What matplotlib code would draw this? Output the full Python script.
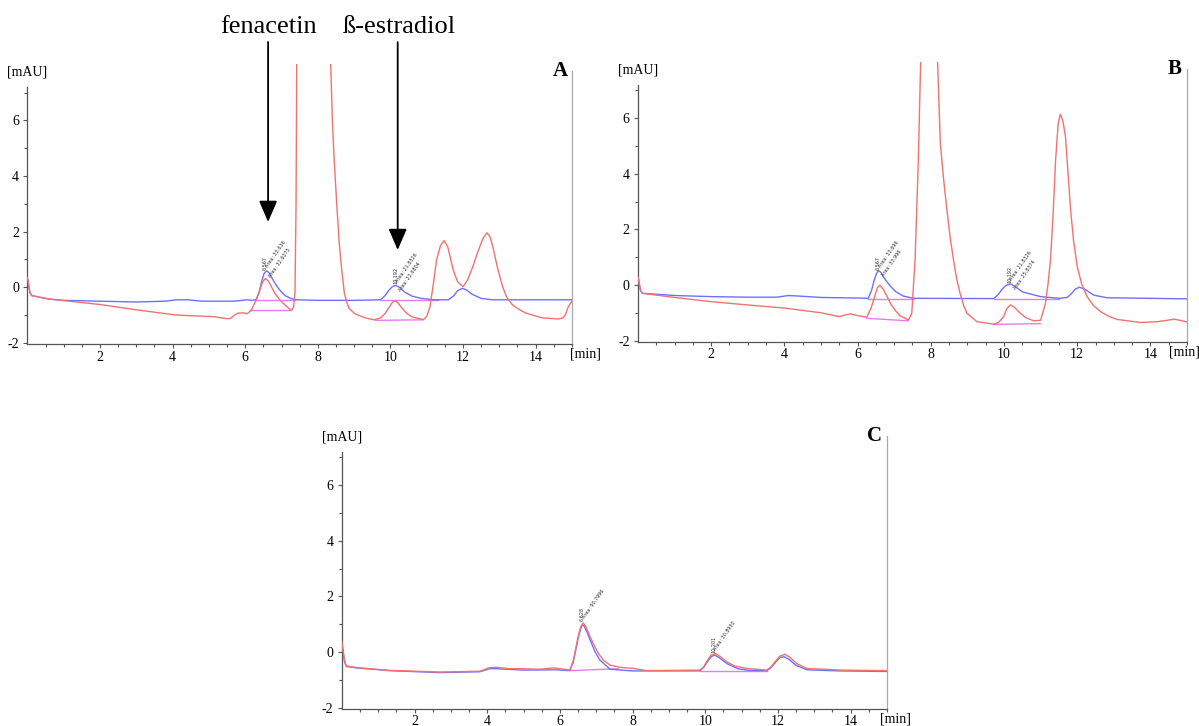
import matplotlib
matplotlib.use("Agg")
import matplotlib.pyplot as plt
import numpy as np

plt.rcParams['font.family'] = ['Liberation Serif', 'DejaVu Serif']
plt.rcParams['axes.unicode_minus'] = False

# ---- data (time in min, signal in mAU) ----
# Panel A
a_blue_t = [0.0, 0.07, 0.12, 0.6, 1.0, 2.0, 3.0, 3.8, 4.1, 4.4, 4.8, 5.7, 6.05, 6.2, 6.3, 6.38, 6.45,
            6.52, 6.59, 6.66, 6.75, 6.85, 6.95, 7.1, 7.25, 7.4, 8.0, 9.0, 9.73, 9.85, 9.95, 10.05,
            10.14, 10.25, 10.4, 10.6, 10.85, 11.2, 11.6, 11.75, 11.85, 11.98, 12.1, 12.25, 12.5,
            12.8, 15.0]
a_blue_v = [0.3, -0.2, -0.3, -0.43, -0.47, -0.5, -0.53, -0.5, -0.45, -0.45, -0.5, -0.5, -0.45, -0.47,
            -0.44, -0.2, 0.2, 0.5, 0.59, 0.52, 0.3, 0.08, -0.1, -0.3, -0.4, -0.45, -0.47, -0.47,
            -0.45, -0.3, -0.12, 0.02, 0.07, 0.0, -0.18, -0.32, -0.4, -0.45, -0.45, -0.3, -0.12,
            -0.04, -0.1, -0.25, -0.4, -0.45, -0.45]
a_red_t = [0.0, 0.07, 0.12, 0.6, 1.0, 2.0, 3.0, 4.1, 5.15, 5.5, 5.6, 5.7, 5.8, 5.95, 6.05, 6.15, 6.25,
           6.32, 6.4, 6.48, 6.56, 6.64, 6.72, 6.82, 6.95, 7.09, 7.2, 7.27, 7.33, 7.37, 7.4, 7.42,
           7.5, 7.9, 8.3, 8.35, 8.4, 8.45, 8.52, 8.59, 8.66, 8.73, 8.8, 8.86, 9.0, 9.09, 9.3, 9.55,
           9.73, 9.85, 9.95, 10.05, 10.12, 10.2, 10.3, 10.45, 10.6, 10.91, 11.0, 11.09, 11.18,
           11.27, 11.38, 11.48, 11.58, 11.73, 11.85, 12.0, 12.12, 12.27, 12.4, 12.55, 12.66, 12.75,
           12.82, 12.95, 13.09, 13.2, 13.36, 13.55, 13.73, 14.18, 14.64, 14.75, 14.82, 14.9, 15.0]
a_red_v = [0.35, -0.2, -0.3, -0.42, -0.48, -0.62, -0.81, -1.0, -1.06, -1.13, -1.12, -1.0, -0.93,
           -0.92, -0.95, -0.85, -0.6, -0.4, -0.1, 0.2, 0.32, 0.22, 0.02, -0.22, -0.45, -0.63, -0.76,
           -0.83, -0.72, -0.2, 3.0, 8.5, 20, 40, 15, 8.2, 6.0, 4.6, 3.0, 1.58, 0.6, -0.21, -0.55,
           -0.76, -0.93, -0.99, -1.1, -1.17, -1.1, -0.95, -0.75, -0.55, -0.49, -0.55, -0.72, -0.94,
           -1.07, -1.16, -1.05, -0.7, 0.1, 0.98, 1.5, 1.68, 1.45, 0.62, 0.2, 0.02, 0.25, 0.74, 1.25,
           1.76, 1.96, 1.8, 1.46, 0.7, 0.02, -0.35, -0.63, -0.8, -0.93, -1.1, -1.14, -1.1, -0.99,
           -0.7, -0.5]

# Panel B
b_blue_t = [0.0, 0.07, 0.12, 1.0, 2.0, 3.0, 3.8, 4.1, 4.4, 5.0, 6.0, 6.29, 6.38, 6.45, 6.52, 6.57,
            6.64, 6.75, 6.9, 7.05, 7.25, 7.53, 9.72, 9.85, 9.95, 10.05, 10.17, 10.3, 10.5, 11.0,
            11.5, 11.73, 11.85, 11.95, 12.06, 12.2, 12.46, 12.82, 15.0]
b_blue_v = [0.3, -0.2, -0.3, -0.38, -0.42, -0.44, -0.44, -0.38, -0.4, -0.45, -0.47, -0.48, -0.2,
            0.15, 0.42, 0.51, 0.45, 0.2, -0.05, -0.25, -0.4, -0.48, -0.49, -0.33, -0.15, -0.02,
            0.04, -0.05, -0.25, -0.42, -0.48, -0.45, -0.3, -0.15, -0.08, -0.15, -0.37, -0.46, -0.5]
b_red_t = [0.0, 0.07, 0.12, 1.0, 2.0, 3.0, 4.0, 5.0, 5.5, 5.6, 5.79, 6.0, 6.25, 6.38, 6.47, 6.54,
           6.61, 6.7, 6.8, 6.9, 7.05, 7.16, 7.3, 7.39, 7.48, 7.57, 7.66, 7.74, 7.9, 8.05, 8.16,
           8.26, 8.35, 8.44, 8.53, 8.62, 8.71, 8.8, 8.9, 8.99, 9.26, 9.72, 9.85, 9.99, 10.08,
           10.17, 10.28, 10.45, 10.6, 10.81, 11.0, 11.13, 11.2, 11.27, 11.34, 11.41, 11.48, 11.54,
           11.61, 11.68, 11.75, 11.82, 11.9, 12.0, 12.12, 12.27, 12.45, 12.64, 12.85, 13.09, 13.73,
           14.2, 14.46, 14.65, 14.8, 15.0]
b_red_v = [0.3, -0.2, -0.3, -0.45, -0.6, -0.72, -0.83, -1.0, -1.14, -1.1, -1.04, -1.1, -1.16, -0.79,
           -0.4, -0.1, -0.01, -0.15, -0.4, -0.67, -0.95, -1.11, -1.2, -1.26, -1.02, 0.9, 4.5, 9.0,
           30, 30, 9.0, 5.1, 3.8, 2.7, 1.7, 0.9, 0.2, -0.3, -0.75, -1.02, -1.32, -1.41, -1.35,
           -1.14, -0.85, -0.72, -0.8, -1.02, -1.18, -1.29, -1.27, -0.67, 0.0, 0.9, 2.5, 4.5, 5.8,
           6.14, 5.9, 5.33, 4.0, 2.7, 1.6, 0.66, 0.05, -0.42, -0.75, -0.96, -1.12, -1.24, -1.35,
           -1.32, -1.27, -1.23, -1.27, -1.33]

# Panel C
c_blue_t = [0.0, 0.07, 0.12, 0.39, 1.31, 2.69, 3.79, 4.07, 4.25, 4.98, 5.9, 6.26, 6.36, 6.44, 6.52,
            6.6, 6.66, 6.75, 6.85, 6.97, 7.1, 7.38, 8.0, 9.85, 9.96, 10.06, 10.17, 10.26, 10.38,
            10.6, 10.9, 11.2, 11.69, 11.8, 11.93, 12.05, 12.17, 12.3, 12.5, 12.8, 13.7, 15.0]
c_blue_v = [0.3, -0.35, -0.52, -0.57, -0.67, -0.74, -0.71, -0.6, -0.6, -0.65, -0.64, -0.67, -0.4,
            0.1, 0.6, 0.95, 0.95, 0.7, 0.37, 0.0, -0.29, -0.62, -0.68, -0.68, -0.55, -0.35, -0.16,
            -0.11, -0.2, -0.42, -0.6, -0.66, -0.67, -0.58, -0.38, -0.2, -0.17, -0.26, -0.48, -0.64,
            -0.68, -0.7]
c_red_t = [0.0, 0.07, 0.12, 0.4, 1.3, 2.7, 3.8, 4.07, 4.25, 4.6, 5.0, 5.45, 5.82, 6.0, 6.28, 6.37,
           6.44, 6.5, 6.57, 6.64, 6.72, 6.83, 6.95, 7.06, 7.2, 7.38, 7.65, 8.02, 8.39, 9.85, 9.95,
           10.04, 10.15, 10.28, 10.4, 10.59, 10.8, 11.14, 11.69, 11.8, 11.92, 12.05, 12.19, 12.32,
           12.51, 12.79, 13.71, 15.0]
c_red_v = [0.35, -0.3, -0.5, -0.56, -0.66, -0.72, -0.69, -0.56, -0.55, -0.6, -0.6, -0.62, -0.57,
           -0.6, -0.65, -0.29, 0.15, 0.55, 0.9, 1.05, 0.9, 0.55, 0.22, -0.05, -0.3, -0.47, -0.55,
           -0.59, -0.67, -0.65, -0.55, -0.35, -0.12, -0.05, -0.15, -0.35, -0.5, -0.59, -0.65,
           -0.55, -0.35, -0.15, -0.08, -0.18, -0.41, -0.59, -0.65, -0.67]

# integration baselines: (t_start, v_start, t_end, v_end)
a_base = [(6.3, -0.45, 7.36, -0.45), (6.14, -0.83, 7.25, -0.83),
          (9.73, -0.45, 11.3, -0.45), (9.59, -1.19, 10.91, -1.17)]
b_base = [(6.29, -0.49, 7.53, -0.49), (6.25, -1.2, 7.39, -1.29),
          (9.72, -0.49, 11.5, -0.49), (9.72, -1.42, 11.0, -1.39)]
c_base = [(6.28, -0.67, 7.6, -0.6), (9.85, -0.67, 11.69, -0.67)]

# peak annotations: (time, height, [label lines])
a_peaks = [(6.56, 0.62, ["6.567", "Area: 33.636", "Area: 32.6075"]),
           (10.14, 0.1, ["10.192", "Area: 21.8326", "Area: 22.6804"])]
b_peaks = [(6.57, 0.55, ["6.567", "Area: 33.696", "Area: 33.996"]),
           (10.17, 0.08, ["10.192", "Area: 21.8326", "Area: 25.8374"])]
c_peaks = [(6.62, 1.1, ["6.628", "Area: 90.7996"]),
           (10.25, -0.02, ["10.201", "Area: 30.8930"])]

BLUE = '#6f6fff'
RED = '#f07272'
MAGENTA = '#e27ef0'
TICK_SIZE = 10


def draw_panel(ax, blue_t, blue_v, red_t, red_v, bases, peaks, letter, min_x):
    for t0, v0, t1, v1 in bases:
        ax.plot([t0, t1], [v0, v1], color=MAGENTA, lw=1.0, zorder=1)
    ax.plot(blue_t, blue_v, color=BLUE, lw=1.0, zorder=2)
    ax.plot(red_t, red_v, color=RED, lw=1.0, zorder=3)
    for t, v, lines in peaks:
        ax.text(t, v, lines[0], rotation=90, fontsize=3.5, family='DejaVu Sans',
                ha='center', va='bottom', color='#333333')
        for k, s in enumerate(lines[1:]):
            ax.text(t + 0.08 + 0.1 * k, v + 0.05 - 0.35 * k, s, rotation=55, fontsize=3.5,
                    family='DejaVu Sans', ha='left', va='bottom', rotation_mode='anchor',
                    color='#333333')

    ax.set_xlim(0, 15)
    ax.set_ylim(-2.05, 8.03)
    ax.set_xticks([2, 4, 6, 8, 10, 12, 14])
    ax.set_xticks(np.arange(0.5, 15.01, 0.5), minor=True)
    ax.set_yticks([-2, 0, 2, 4, 6])
    ax.set_yticks(np.arange(-2, 7.5, 1), minor=True)
    ax.tick_params(which='both', labelsize=TICK_SIZE, colors='#555555', labelcolor='black',
                   width=0.8)
    ax.tick_params(which='major', length=3)
    ax.tick_params(which='minor', length=2)
    ax.tick_params(axis='y', pad=3)
    ax.tick_params(axis='x', pad=1.5)
    ax.spines['top'].set_visible(False)
    ax.spines['left'].set_bounds(-2.05, 7.2)
    ax.spines['right'].set_bounds(-2.05, 7.78)
    ax.spines['right'].set_color('#aaaaaa')
    ax.spines['left'].set_color('#555555')
    ax.spines['bottom'].set_color('#555555')
    for sp in ax.spines.values():
        sp.set_linewidth(0.9)
    ax.text(0.0, 0.972, '[mAU]', transform=ax.transAxes, ha='center', va='center', fontsize=10)
    ax.text(min_x, -0.035, '[min]', transform=ax.transAxes, ha='center', va='center', fontsize=10)
    ax.text(0.978, 0.975, letter, transform=ax.transAxes, ha='center', va='center',
            fontsize=15, fontweight='bold')


fig = plt.figure(figsize=(11.99, 7.26), dpi=100)
ax_a = fig.add_axes([0.0229, 0.5258, 0.4541, 0.386])
ax_b = fig.add_axes([0.5321, 0.529, 0.4579, 0.386])
ax_c = fig.add_axes([0.2852, 0.0234, 0.4545, 0.386])

draw_panel(ax_a, a_blue_t, a_blue_v, a_red_t, a_red_v, a_base, a_peaks, 'A', 1.024)
draw_panel(ax_b, b_blue_t, b_blue_v, b_red_t, b_red_v, b_base, b_peaks, 'B', 0.996)
draw_panel(ax_c, c_blue_t, c_blue_v, c_red_t, c_red_v, c_base, c_peaks, 'C', 1.015)

# compound arrows above panel A
arrow = dict(arrowstyle='-|>,head_length=0.65,head_width=0.28', color='black', lw=1.3,
             mutation_scale=20, shrinkA=0, shrinkB=0)
ax_a.annotate('', xy=(6.63, 2.35), xytext=(6.63, 8.82), arrowprops=arrow, annotation_clip=False)
ax_a.annotate('', xy=(10.2, 1.34), xytext=(10.2, 8.82), arrowprops=arrow, annotation_clip=False)
ax_a.text(6.63, 9.36, 'fenacetin', ha='center', va='center', fontsize=19)
ax_a.text(10.24, 9.36, 'ß-estradiol', ha='center', va='center', fontsize=19)

fig.savefig('out.png', dpi=100)
